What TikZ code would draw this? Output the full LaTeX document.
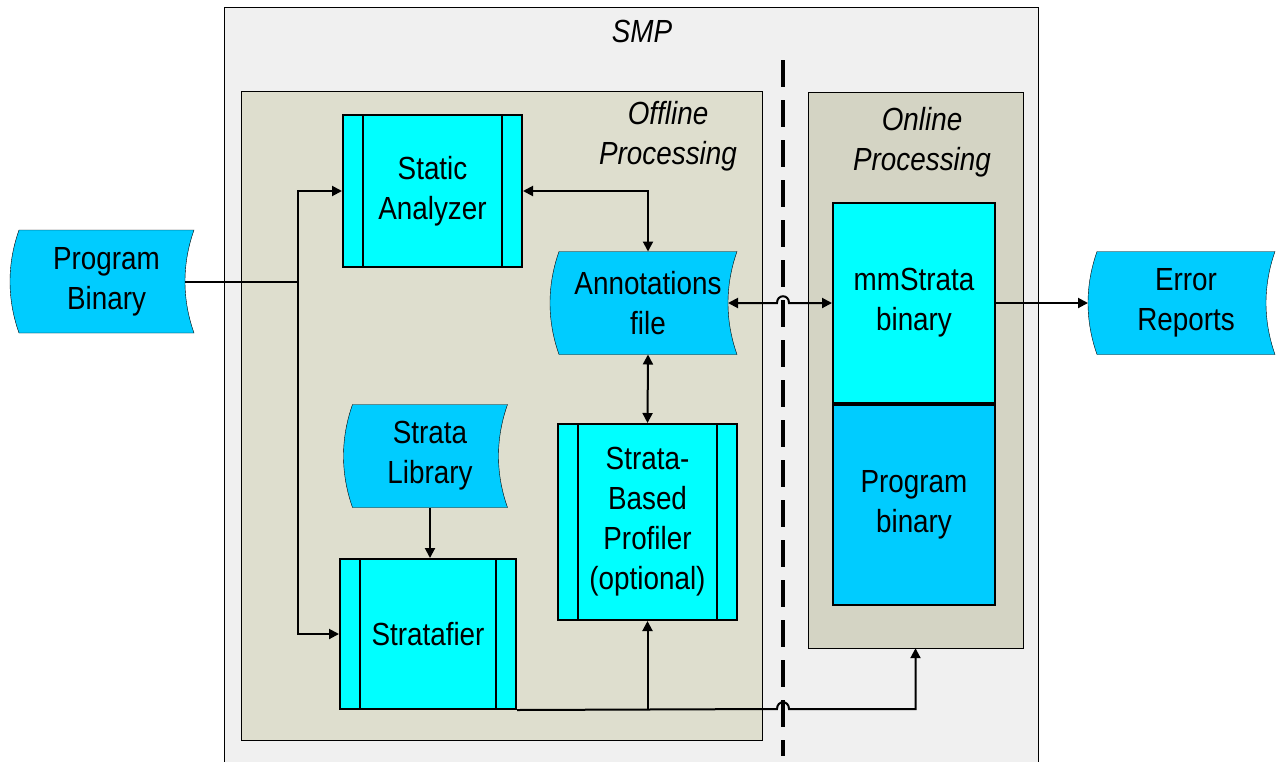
\documentclass[tikz,border=0pt]{standalone}
\usepackage{fontspec}
\setmainfont{Liberation Sans}[FakeStretch=0.87]
\usetikzlibrary{arrows.meta,backgrounds}

\definecolor{tapeblue}{RGB}{0,204,255}
\definecolor{procblue}{RGB}{0,255,255}
\definecolor{smpgray}{RGB}{240,240,240}
\definecolor{offgray}{RGB}{222,222,206}
\definecolor{ongray}{RGB}{212,212,196}

\tikzset{
  txt/.style={align=center,inner sep=0pt,font=\fontsize{32}{40}\selectfont},
  lbl/.style={txt,font=\fontsize{32}{40}\selectfont\itshape},
  areabox/.style={draw,inner sep=0pt},
  procbox/.style={txt,draw,fill=procblue},
  subproc/.style={procbox,path picture={
    \draw ([xshift=20pt]path picture bounding box.north west) -- ([xshift=20pt]path picture bounding box.south west);
    \draw ([xshift=-20pt]path picture bounding box.north east) -- ([xshift=-20pt]path picture bounding box.south east);}},
  tape/.style={txt,minimum height=101pt},
  arr/.style={-{Triangle[length=10pt,width=10pt]}},
  arrs/.style={{Triangle[length=10pt,width=10pt]}-{Triangle[length=10pt,width=10pt]}},
}

\begin{document}
\begin{tikzpicture}[x=1pt,y=-1pt,line width=2pt]
\useasboundingbox (0,0) rectangle (1282,761);

\begin{scope}[on background layer]
\node[areabox,fill=smpgray,minimum width=814pt,minimum height=763pt] (smp) at (631,388.5) {};
\node[areabox,fill=offgray,minimum width=521pt,minimum height=649pt] (off) at (501.5,415.5) {};
\node[areabox,fill=ongray,minimum width=215pt,minimum height=556pt] (on) at (915.5,370) {};
\end{scope}

\node[lbl] (smplbl) at (642,31) {SMP};
\node[lbl] (offlbl) at (668,136) {Offline\\Processing};
\node[lbl] (onlbl) at (922,142) {Online\\Processing};

\coordinate (dtop) at (783,60);
\coordinate (dbot) at (783,756);
\draw[line width=4pt,dash pattern=on 27pt off 13pt] (dtop) -- (dbot);

\node[tape,minimum width=173pt] (pb) at (106.5,281.5) {Program\\Binary};
\node[tape,minimum width=176pt] (af) at (648,303) {Annotations\\file};
\node[tape,minimum width=153pt] (sl) at (430,456) {Strata\\Library};
\node[tape,minimum width=176pt] (er) at (1186,303) {Error\\Reports};

\begin{scope}[on background layer]
\foreach \n in {pb,af,sl,er}
  \draw[fill=tapeblue] (\n.north west) -- (\n.north east) .. controls +(-12,34) and +(-12,-34) .. (\n.south east)
    -- (\n.south west) .. controls +(-12,-34) and +(-12,34) .. (\n.north west) -- cycle;
\end{scope}

\node[subproc,minimum width=179pt,minimum height=152pt] (sa) at (432.5,191) {Static\\Analyzer};
\node[subproc,minimum width=176pt,minimum height=150pt] (sf) at (428,634) {Stratafier};
\node[subproc,minimum width=179pt,minimum height=196pt] (pf) at (647.5,522) {Strata-\\Based\\Profiler\\(optional)};
\node[procbox,minimum width=162pt,minimum height=200pt] (mm) at (914,303) {mmStrata\\binary};
\node[procbox,fill=tapeblue,minimum width=162pt,minimum height=200pt,anchor=north] (bin) at (mm.south) {Program\\binary};

\coordinate (split) at (298,281.5);
\draw ([xshift=-9pt]pb.east) -- (split);
\draw[arr] (split) |- (sa.west);
\draw[arr] (split) |- (sf.west);
\draw[arrs] (sa.east) -| (af.north);
\draw[arrs] (af.south) -- (pf.north);
\draw[arrs] ([xshift=-9pt]af.east) -- (777,303) .. controls (777,294) and (789,294) .. (789,303) -- (mm.west);
\draw[arr] (sl.south) -- (sl.south |- sf.north);
\draw[arr] (sf.south east) -- (777,709) .. controls (777,700) and (789,700) .. (789,709) -| (on.south);
\draw[arr] (pf.south |- sf.south) -- (pf.south);
\draw[arr] (mm.east) -- ([xshift=-9pt]er.west);
\end{tikzpicture}
\end{document}
